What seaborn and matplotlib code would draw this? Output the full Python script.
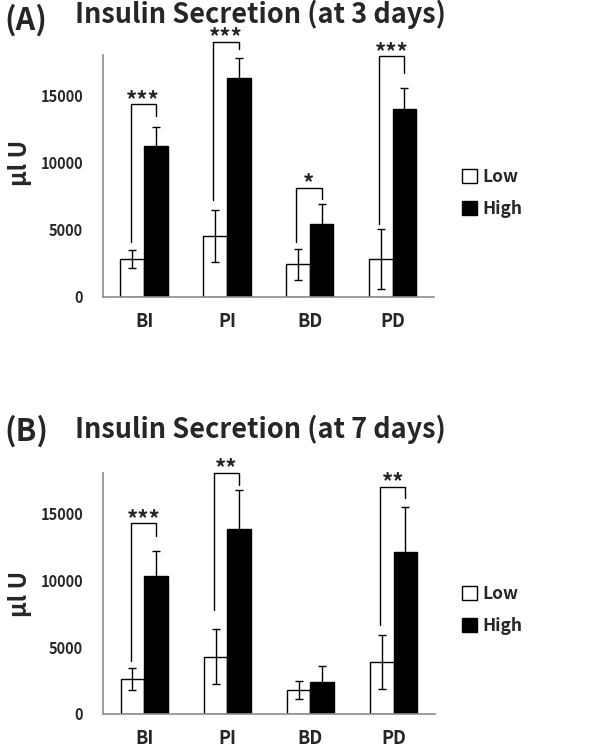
import matplotlib
matplotlib.use("Agg")
import matplotlib.pyplot as plt
from matplotlib.patches import Patch
from matplotlib.ticker import FixedLocator
import seaborn as sns
import pandas as pd

categories = ["BI", "PI", "BD", "PD"]
groups = ["Low", "High"]

# (A) 3 days
low_3d = [2800, 4500, 2400, 2800]
low_3d_err = [650, 1950, 1170, 2250]
high_3d = [11200, 16300, 5450, 13950]
high_3d_err = [1450, 1450, 1450, 1600]
# bracket levels: left leg bottom, bar top, right leg bottom
brk_3d = [(4050, 14330, 13450), (7230, 18980, 18440), (4050, 8100, 7280), (5430, 17890, 16640)]
stars_3d = ["***", "***", "*", "***"]

# (B) 7 days
low_7d = [2650, 4300, 1800, 3900]
low_7d_err = [820, 2020, 700, 2000]
high_7d = [10300, 13850, 2400, 12100]
high_7d_err = [1900, 2900, 1170, 3400]
brk_7d = [(3950, 14260, 13340), (7800, 18060, 17140), None, (6680, 17010, 16150)]
stars_7d = ["***", "**", "", "**"]

sns.set_style("white")
plt.rcParams["font.family"] = ["Noto Sans CJK KR", "DejaVu Sans"]
plt.rcParams["font.weight"] = "bold"

AXIS_COLOR = "#8c8c8c"

fig = plt.figure(figsize=(6.09, 7.5), dpi=100)
ax_a = fig.add_axes([0.1686, 0.6044, 0.544, 0.3223])
ax_b = fig.add_axes([0.1686, 0.048, 0.546, 0.3209])


def panel(ax, low, low_err, high, high_err, brks, stars, tag, title, ytag, ytitle, yleg, ylab_y):
    df = pd.DataFrame({
        "cat": categories * 2,
        "grp": ["Low"] * 4 + ["High"] * 4,
        "val": low + high,
    })
    sns.barplot(data=df, x="cat", y="val", hue="grp", order=categories, hue_order=groups,
                palette={"Low": "white", "High": "black"}, edgecolor="black", linewidth=1.0,
                width=0.57, errorbar=None, legend=False, ax=ax)

    errs = [low_err, high_err]
    centers = []
    for cont, vals, e in zip(ax.containers, [low, high], errs):
        xs = [b.get_x() + b.get_width() / 2 for b in cont]
        centers.append(xs)
        ax.errorbar(xs, vals, yerr=e, fmt="none", ecolor="black", elinewidth=1.0,
                    capsize=2.6, capthick=1.0, zorder=3)

    # significance brackets
    for i, b in enumerate(brks):
        if b is None:
            continue
        xl, xr = centers[0][i] - 0.02, centers[1][i]
        ax.plot([xl, xl, xr, xr], [b[0], b[1], b[1], b[2]], color="black", lw=1.0,
                clip_on=False, zorder=4)
        ax.text((xl + xr) / 2, b[1] + 300, stars[i], ha="center", va="center",
                fontsize=16, clip_on=False)

    ax.set_ylim(0, 18000)
    ax.set_xlim(-0.5, 3.5)
    ax.set_yticks([0, 5000, 10000, 15000])
    ax.set_yticklabels(["0", "5000", "10000", "15000"], fontsize=10.5, fontweight="bold")
    ax.tick_params(axis="y", length=0, pad=14)
    ax.set_xticks(range(4))
    ax.set_xticklabels(categories, fontsize=13, fontweight="bold")
    ax.tick_params(axis="x", which="major", length=0, pad=11)
    ax.xaxis.set_minor_locator(FixedLocator([-0.5, 0.5, 1.5, 2.5, 3.5]))
    ax.tick_params(axis="x", which="minor", length=6, width=1, color=AXIS_COLOR, direction="out")
    ax.set_xlabel("")
    ax.set_ylabel("μl U", fontsize=17, fontweight="bold", va="center")
    ax.yaxis.set_label_coords(-0.25, ylab_y)
    for s in ["top", "right"]:
        ax.spines[s].set_visible(False)
    for s in ["left", "bottom"]:
        ax.spines[s].set_color(AXIS_COLOR)
        ax.spines[s].set_linewidth(1.2)

    fig.text(4 / 609, ytag, tag, fontsize=22, fontweight="bold", ha="left", va="center")
    fig.text(75 / 609, ytitle, title, fontsize=19.5, fontweight="bold", ha="left", va="center")

    handles = [Patch(facecolor="white", edgecolor="black", label="Low"),
               Patch(facecolor="black", edgecolor="black", label="High")]
    fig.legend(handles=handles, loc="center left", bbox_to_anchor=(455 / 609, yleg),
               frameon=False, handlelength=0.85, handleheight=0.85, handletextpad=0.3,
               labelspacing=0.8, borderaxespad=0, prop={"size": 12.5, "weight": "bold"})


panel(ax_a, low_3d, low_3d_err, high_3d, high_3d_err, brk_3d, stars_3d,
      "(A)", "Insulin Secretion (at 3 days)", 1 - 20 / 750, 1 - 14 / 750, 1 - 193 / 750, 0.553)
panel(ax_b, low_7d, low_7d_err, high_7d, high_7d_err, brk_7d, stars_7d,
      "(B)", "Insulin Secretion (at 7 days)", 1 - 431 / 750, 1 - 429 / 750, 1 - 610 / 750, 0.5)

fig.savefig("out.png", dpi=100)
